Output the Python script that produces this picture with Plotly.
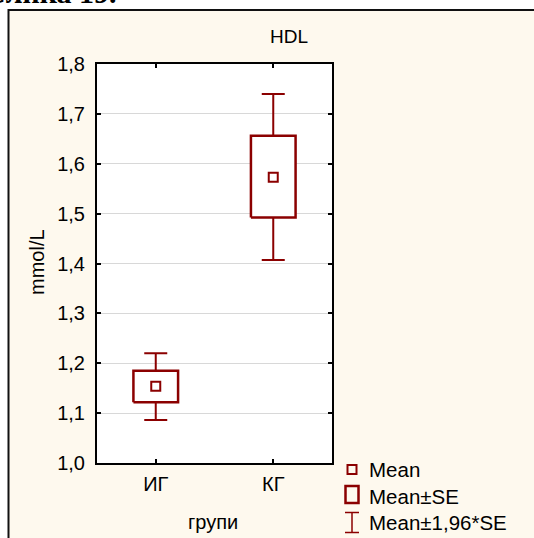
import plotly.graph_objects as go

# ---- data ----
groups = ["ИГ", "КГ"]
mean_vals = [1.154, 1.573]
se_low = [1.122, 1.492]
se_high = [1.185, 1.656]
ci_low = [1.086, 1.407]
ci_high = [1.220, 1.740]
y_ticks = [1.0, 1.1, 1.2, 1.3, 1.4, 1.5, 1.6, 1.7, 1.8]
y_tick_text = ["1,0", "1,1", "1,2", "1,3", "1,4", "1,5", "1,6", "1,7", "1,8"]
legend_labels = ["Mean", "Mean±SE", "Mean±1,96*SE"]

RED = "#8B0000"
CREAM = "#FEF9EE"
FONT = "Liberation Sans, Arial, sans-serif"

W, H = 534, 538
L, R, T, B = 97, 332, 64, 463
PW, PH = R - L, B - T


def px(x):
    return (x - L) / PW


def py(y):
    return (B - y) / PH


xs = list(range(len(groups)))
half_w = 0.19

fig = go.Figure()

# whiskers (mean ± 1.96*SE)
fig.add_trace(go.Scatter(
    x=xs, y=mean_vals, mode="markers",
    marker=dict(size=1, color="rgba(0,0,0,0)"),
    error_y=dict(type="data", symmetric=False,
                 array=[h - m for h, m in zip(ci_high, mean_vals)],
                 arrayminus=[m - l for m, l in zip(mean_vals, ci_low)],
                 color=RED, thickness=2, width=11.5),
    showlegend=False, hoverinfo="skip"))

# boxes (mean ± SE)
for i, lo, hi in zip(xs, se_low, se_high):
    fig.add_trace(go.Scatter(
        x=[i - half_w, i + half_w, i + half_w, i - half_w, i - half_w],
        y=[lo, lo, hi, hi, lo],
        mode="lines", fill="toself", fillcolor="white",
        line=dict(color=RED, width=2.5),
        showlegend=False, hoverinfo="skip"))

# means
fig.add_trace(go.Scatter(
    x=xs, y=mean_vals, mode="markers",
    marker=dict(symbol="square-open", size=9, color=RED, line=dict(width=2, color=RED)),
    showlegend=False))

shapes = []
# white outside strips + frame
shapes.append(dict(type="rect", xref="paper", yref="paper", layer="below",
                   x0=px(-20), x1=px(8), y0=py(600), y1=py(-20),
                   fillcolor="white", line=dict(width=0)))
shapes.append(dict(type="rect", xref="paper", yref="paper", layer="below",
                   x0=px(-20), x1=px(600), y0=py(9), y1=py(-20),
                   fillcolor="white", line=dict(width=0)))
shapes.append(dict(type="rect", xref="paper", yref="paper", layer="above",
                   x0=px(8.5), x1=px(600), y0=py(600), y1=py(10),
                   line=dict(color="#111111", width=2)))

# legend symbols
lx = 352
shapes.append(dict(type="rect", xref="paper", yref="paper",
                   x0=px(lx - 4.5), x1=px(lx + 4.5), y0=py(474), y1=py(465),
                   line=dict(color=RED, width=2)))
shapes.append(dict(type="rect", xref="paper", yref="paper",
                   x0=px(lx - 6.5), x1=px(lx + 6.5), y0=py(503), y1=py(486),
                   line=dict(color=RED, width=2.5)))
shapes.append(dict(type="line", xref="paper", yref="paper",
                   x0=px(lx), x1=px(lx), y0=py(533), y1=py(512),
                   line=dict(color=RED, width=1.5)))
for yy in (512.5, 532.5):
    shapes.append(dict(type="line", xref="paper", yref="paper",
                       x0=px(lx - 7), x1=px(lx + 7), y0=py(yy), y1=py(yy),
                       line=dict(color=RED, width=1.5)))

annotations = []
for lab, yc in zip(legend_labels, [469, 496, 522]):
    annotations.append(dict(text=lab, xref="paper", yref="paper",
                            x=px(367), y=py(yc), xanchor="left", yanchor="middle",
                            showarrow=False, font=dict(family=FONT, size=20.5, color="black")))
annotations.append(dict(text="HDL", xref="paper", yref="paper", x=px(289), y=py(36),
                        xanchor="center", yanchor="middle", showarrow=False,
                        font=dict(family=FONT, size=19, color="black")))
annotations.append(dict(text="групи", xref="paper", yref="paper", x=px(213), y=py(522),
                        xanchor="center", yanchor="middle", showarrow=False,
                        font=dict(family=FONT, size=20, color="black")))
annotations.append(dict(text="mmol/L", xref="paper", yref="paper", x=px(37), y=py(262),
                        xanchor="center", yanchor="middle", showarrow=False, textangle=-90,
                        font=dict(family=FONT, size=20, color="black")))
annotations.append(dict(text="<b>Слика 19.</b>", xref="paper", yref="paper", x=px(119), y=py(11),
                        xanchor="right", yanchor="bottom", showarrow=False,
                        font=dict(family="Liberation Serif, Times New Roman, serif", size=30,
                                  color="black")))

fig.update_layout(
    width=W, height=H,
    margin=dict(l=L, r=W - R, t=T, b=H - B),
    paper_bgcolor=CREAM, plot_bgcolor="white",
    shapes=shapes, annotations=annotations,
    showlegend=False,
    xaxis=dict(range=[-0.5, 1.5], tickvals=xs, ticktext=groups,
               ticks="inside", ticklen=4, tickwidth=1.5, tickcolor="black",
               showline=True, linecolor="black", linewidth=2, mirror="ticks",
               showgrid=False, zeroline=False, fixedrange=True,
               tickfont=dict(family=FONT, size=20, color="black"),
               ticklabelstandoff=2),
    yaxis=dict(range=[1.0, 1.8], tickvals=y_ticks, ticktext=y_tick_text,
               ticks="inside", ticklen=4, tickwidth=1.5, tickcolor="black",
               showline=True, linecolor="black", linewidth=2, mirror="ticks",
               showgrid=True, gridcolor="#D8D8D8", gridwidth=1, zeroline=False,
               fixedrange=True,
               tickfont=dict(family=FONT, size=20, color="black"),
               ticklabelstandoff=6),
)

fig.write_html("out.html")
